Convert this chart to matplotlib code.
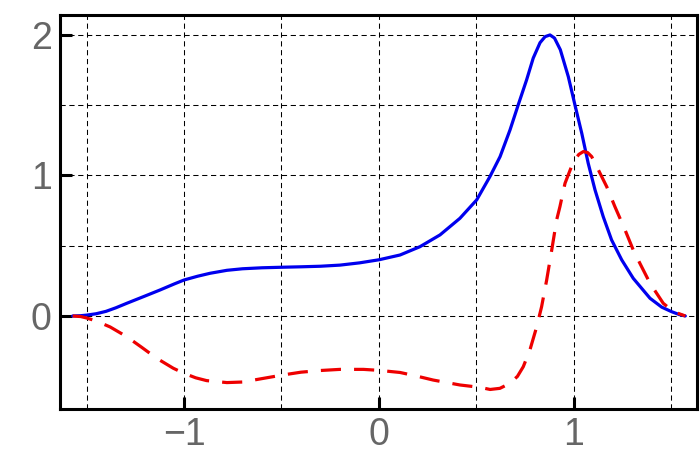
import numpy as np
import matplotlib
matplotlib.use("Agg")
import matplotlib.pyplot as plt

# values
blue_x = [-1.571, -1.53, -1.50, -1.45, -1.40, -1.35, -1.294, -1.20, -1.123, -1.05,
          -1.00, -0.93, -0.866, -0.78, -0.70, -0.60, -0.494, -0.40, -0.30, -0.20,
          -0.10, 0.00, 0.108, 0.21, 0.313, 0.415, 0.501, 0.569, 0.621, 0.672,
          0.714, 0.757, 0.791, 0.826, 0.852, 0.877, 0.90, 0.93, 0.971, 1.005,
          1.04, 1.073, 1.108, 1.15, 1.193, 1.245, 1.304, 1.39, 1.45, 1.50,
          1.54, 1.571]
blue_y = [0.0, 0.002, 0.006, 0.016, 0.033, 0.058, 0.09, 0.142, 0.185, 0.228,
          0.256, 0.283, 0.304, 0.325, 0.336, 0.343, 0.347, 0.350, 0.354, 0.362,
          0.378, 0.400, 0.434, 0.493, 0.577, 0.695, 0.826, 0.992, 1.134, 1.324,
          1.502, 1.68, 1.835, 1.945, 1.988, 2.0, 1.978, 1.895, 1.703, 1.502,
          1.30, 1.087, 0.897, 0.707, 0.541, 0.399, 0.268, 0.126, 0.063, 0.031,
          0.01, 0.0]

red_x = [-1.571, -1.53, -1.50, -1.45, -1.379, -1.294, -1.217, -1.14, -1.055, -1.00,
         -0.94, -0.884, -0.78, -0.70, -0.593, -0.494, -0.40, -0.30, -0.20, -0.08,
         0.00, 0.108, 0.20, 0.278, 0.415, 0.518, 0.57, 0.62, 0.672, 0.71,
         0.74, 0.774, 0.809, 0.834, 0.86, 0.886, 0.911, 0.928, 0.954, 0.997,
         1.025, 1.048, 1.07, 1.091, 1.125, 1.168, 1.21, 1.262, 1.304, 1.338,
         1.39, 1.458, 1.51, 1.571]
red_y = [0.0, -0.004, -0.014, -0.036, -0.078, -0.147, -0.223, -0.301, -0.372, -0.408,
         -0.44, -0.46, -0.474, -0.47, -0.444, -0.42, -0.40, -0.388, -0.38, -0.38,
         -0.387, -0.402, -0.43, -0.456, -0.491, -0.508, -0.523, -0.515, -0.479, -0.43,
         -0.361, -0.242, -0.076, 0.066, 0.256, 0.47, 0.683, 0.778, 0.944, 1.098,
         1.15, 1.17, 1.163, 1.134, 1.04, 0.92, 0.778, 0.612, 0.47, 0.375,
         0.233, 0.09, 0.031, 0.0]

xticks = [-1, 0, 1]
yticks = [0, 1, 2]

plt.rcParams['font.family'] = ['Liberation Sans', 'DejaVu Sans']

fig = plt.figure(figsize=(7, 4.59), dpi=100)
ax = fig.add_axes([60/700, 1 - 409/459, 637/700, 394/459])

# dashed grid every 0.5
for gx in [-1.5, -1.0, -0.5, 0.0, 0.5, 1.0, 1.5]:
    ax.axvline(gx, color='black', lw=0.75, ls=(0, (5, 3.5)), zorder=1)
for gy in [0.0, 0.5, 1.0, 1.5, 2.0]:
    ax.axhline(gy, color='black', lw=0.75, ls=(0, (5, 3.5)), zorder=1)

ax.plot(blue_x, blue_y, color='#0000ee', lw=2.3, zorder=3,
        solid_capstyle='round', solid_joinstyle='round')
ax.plot(red_x, red_y, color='#ee0000', lw=2.3, dashes=(6.3, 4.1), zorder=3)

ax.set_xlim(-1.636, 1.631)
ax.set_ylim(-0.662, 2.142)
ax.set_xticks(xticks)
ax.set_yticks(yticks)
ax.set_xticklabels(['\u22121', '0', '1'])
ax.tick_params(direction='in', length=8.5, width=2.2, top=False, right=False,
               labelsize=27, labelcolor='#666666', pad=6)
for s in ax.spines.values():
    s.set_linewidth(2.2)
    s.set_color('black')

fig.savefig('out.png', dpi=100)
